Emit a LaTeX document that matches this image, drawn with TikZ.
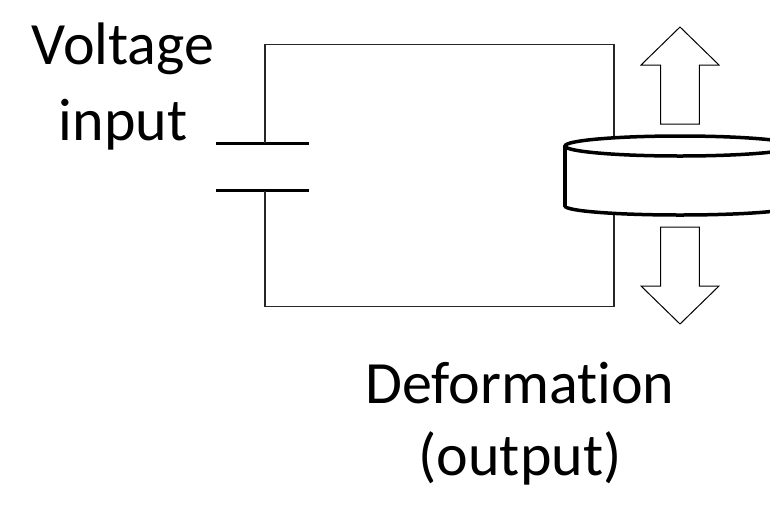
\documentclass[tikz,border=0pt]{standalone}
\usepackage{fontspec}
\setmainfont[Ligatures=NoCommon]{Carlito}
\usepackage{tikz}
\usetikzlibrary{positioning}

\begin{document}
\begin{tikzpicture}[
        x=1pt, y=-1pt,
        wire/.style={draw=black!85, line width=1.1pt},
        plate/.style={draw, line width=3pt},
        disc/.style={draw, fill=white, line width=3.5pt},
        txt/.style={font=\fontsize{60}{76}\selectfont, align=center, inner sep=0pt},
        bigarrow/.pic={\draw[line width=1pt, fill=white] (-19.3,0) -- (-19.3,-59) -- (-39,-59) -- (0,-97) -- (39,-59) -- (19.3,-59) -- (19.3,0) -- cycle;}
    ]
    \useasboundingbox (0,0) rectangle (770,507);

    % 电路角点
    \coordinate (tl) at (265,44.7);
    \coordinate (tr) at (614,44.7);
    \coordinate (br) at (614,306.7);
    \coordinate (bl) at (265,306.7);

    % 电容极板
    \coordinate (ctop) at (265,143.3);
    \coordinate (cbot) at (265,190.7);
    \draw[plate] ([xshift=-49pt]ctop) -- ([xshift=44pt]ctop);
    \draw[plate] ([xshift=-49pt]cbot) -- ([xshift=44pt]cbot);

    % 连线
    \draw[wire] (ctop) -- (tl) -- (tr) -- (br) -- (bl) -- (cbot);

    % 压电圆盘
    \coordinate (disctop) at (680,146);
    \coordinate (discbot) at (680,206);
    \draw[disc] (discbot) ellipse[x radius=115, y radius=9];
    \fill[white] (565,146) rectangle (795,206);
    \draw[line width=3.5pt] (565,146) -- (565,206);
    \draw[disc] (disctop) ellipse[x radius=115, y radius=10];

    % 变形箭头
    \pic at (680,124) {bigarrow};
    \pic[rotate=180] at (680,227) {bigarrow};

    % 文字
    \node[txt, anchor=base] (vin) at (123,140) {Voltage\\input};
    \node[txt, font=\fontsize{60}{72}\selectfont, anchor=base] (dout) at (520,475) {Deformation\\(output)};

\end{tikzpicture}
\end{document}
